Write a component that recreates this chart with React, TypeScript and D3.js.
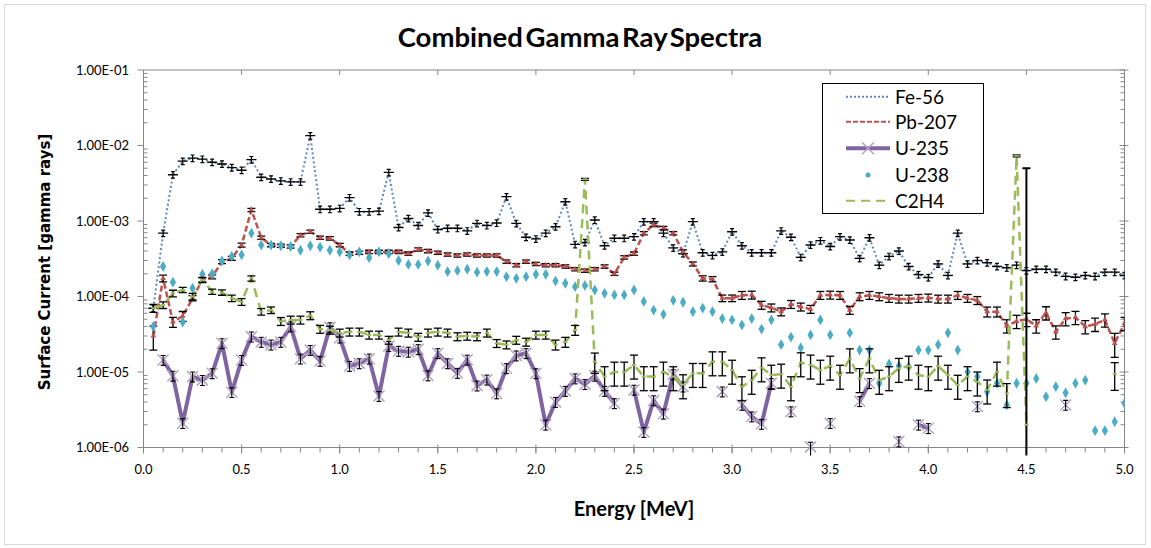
import React from 'react';
import * as d3 from 'd3';

const energy = [
  0.05, 0.1, 0.15, 0.2, 0.25, 0.3, 0.35, 0.4, 0.45, 0.5,
  0.55, 0.6, 0.65, 0.7, 0.75, 0.8, 0.85, 0.9, 0.95, 1.0,
  1.05, 1.1, 1.15, 1.2, 1.25, 1.3, 1.35, 1.4, 1.45, 1.5,
  1.55, 1.6, 1.65, 1.7, 1.75, 1.8, 1.85, 1.9, 1.95, 2.0,
  2.05, 2.1, 2.15, 2.2, 2.25, 2.3, 2.35, 2.4, 2.45, 2.5,
  2.55, 2.6, 2.65, 2.7, 2.75, 2.8, 2.85, 2.9, 2.95, 3.0,
  3.05, 3.1, 3.15, 3.2, 3.25, 3.3, 3.35, 3.4, 3.45, 3.5,
  3.55, 3.6, 3.65, 3.7, 3.75, 3.8, 3.85, 3.9, 3.95, 4.0,
  4.05, 4.1, 4.15, 4.2, 4.25, 4.3, 4.35, 4.4, 4.45, 4.5,
  4.55, 4.6, 4.65, 4.7, 4.75, 4.8, 4.85, 4.9, 4.95, 5.0,
];

const fe56 = [
  7e-5, 6.9e-4, 4.1e-3, 6.2e-3, 6.8e-3, 6.6e-3, 6.0e-3, 5.7e-3, 5.1e-3, 4.7e-3,
  6.5e-3, 3.8e-3, 3.6e-3, 3.4e-3, 3.3e-3, 3.3e-3, 1.35e-2, 1.43e-3, 1.43e-3, 1.47e-3,
  2.04e-3, 1.33e-3, 1.33e-3, 1.35e-3, 4.4e-3, 8.2e-4, 1.08e-3, 8.7e-4, 1.28e-3, 7.7e-4,
  8.0e-4, 8.0e-4, 7.4e-4, 9.3e-4, 8.7e-4, 9.4e-4, 2.1e-3, 9.3e-4, 6.1e-4, 5.8e-4,
  6.9e-4, 8.4e-4, 1.8e-3, 4.9e-4, 5.2e-4, 1.03e-3, 4.7e-4, 5.9e-4, 5.9e-4, 6.2e-4,
  9.8e-4, 9.8e-4, 6.9e-4, 4.4e-4, 3.7e-4, 9.8e-4, 3.8e-4, 3.5e-4, 3.9e-4, 7.2e-4,
  4.7e-4, 3.8e-4, 3.8e-4, 3.8e-4, 7.4e-4, 6.1e-4, 3.3e-4, 4.8e-4, 5.5e-4, 4.6e-4,
  6.2e-4, 5.6e-4, 3.2e-4, 6.0e-4, 2.6e-4, 3.4e-4, 4.0e-4, 2.5e-4, 1.95e-4, 1.78e-4,
  2.7e-4, 1.9e-4, 6.9e-4, 2.7e-4, 3.0e-4, 2.8e-4, 2.5e-4, 2.4e-4, 2.6e-4, 2.2e-4,
  2.3e-4, 2.3e-4, 2.1e-4, 1.85e-4, 1.8e-4, 1.9e-4, 1.85e-4, 2.1e-4, 2.1e-4, 1.9e-4,
];

const pb207 = [
  3.0e-5, 1.74e-4, 4.6e-5, 5.5e-5, 9.5e-5, 1.66e-4, 1.82e-4, 2.9e-4, 3.2e-4, 4.8e-4,
  1.4e-3, 6.0e-4, 4.8e-4, 4.7e-4, 4.6e-4, 6.5e-4, 7.2e-4, 6.0e-4, 5.9e-4, 4.8e-4,
  3.7e-4, 3.8e-4, 3.9e-4, 3.9e-4, 3.9e-4, 3.9e-4, 3.7e-4, 4.2e-4, 4.0e-4, 3.8e-4,
  3.6e-4, 3.5e-4, 3.6e-4, 3.5e-4, 3.5e-4, 3.5e-4, 2.9e-4, 2.6e-4, 2.9e-4, 2.7e-4,
  2.6e-4, 2.6e-4, 2.5e-4, 2.3e-4, 2.2e-4, 2.3e-4, 2.5e-4, 2.0e-4, 3.3e-4, 3.7e-4,
  6.9e-4, 8.9e-4, 8.1e-4, 6.9e-4, 3.9e-4, 2.7e-4, 1.74e-4, 1.7e-4, 9.5e-5, 9.5e-5,
  1.04e-4, 1.05e-4, 7.7e-5, 7.1e-5, 6.3e-5, 7.9e-5, 7.3e-5, 6.8e-5, 1.04e-4, 1.05e-4,
  1.04e-4, 6.6e-5, 1.0e-4, 1.04e-4, 1.0e-4, 9.5e-5, 9.3e-5, 9.3e-5, 9.5e-5, 9.6e-5,
  9.3e-5, 9.3e-5, 1.04e-4, 9.5e-5, 8.9e-5, 6.3e-5, 6.3e-5, 4.1e-5, 4.7e-5, 5.0e-5,
  4.1e-5, 6.1e-5, 3.4e-5, 5.1e-5, 5.3e-5, 4.0e-5, 4.3e-5, 4.9e-5, 2.4e-5, 4.4e-5,
];

const pb207Err = [
  0.35, 0.1, 0.15, 0.15, 0.08, 0.06, 0.06, 0.06, 0.06, 0.06,
  0.05, 0.05, 0.05, 0.05, 0.05, 0.05, 0.05, 0.05, 0.05, 0.05,
  0.05, 0.05, 0.05, 0.05, 0.05, 0.05, 0.05, 0.05, 0.05, 0.05,
  0.05, 0.05, 0.05, 0.05, 0.05, 0.05, 0.05, 0.05, 0.05, 0.05,
  0.05, 0.05, 0.05, 0.05, 0.05, 0.05, 0.05, 0.05, 0.05, 0.05,
  0.05, 0.05, 0.05, 0.05, 0.06, 0.06, 0.08, 0.08, 0.1, 0.1,
  0.12, 0.12, 0.12, 0.12, 0.12, 0.12, 0.12, 0.12, 0.12, 0.12,
  0.12, 0.12, 0.12, 0.12, 0.12, 0.12, 0.12, 0.12, 0.12, 0.12,
  0.12, 0.12, 0.12, 0.12, 0.12, 0.15, 0.15, 0.2, 0.2, 0.2,
  0.2, 0.2, 0.2, 0.2, 0.2, 0.2, 0.2, 0.2, 0.35, 0.2,
];

const u235 = [
  null, 1.44e-5, 8.9e-6, 2.1e-6, 8.7e-6, 7.8e-6, 9.6e-6, 2.4e-5, 5.4e-6, 1.44e-5,
  2.94e-5, 2.5e-5, 2.3e-5, 2.5e-5, 4.0e-5, 1.5e-5, 1.95e-5, 1.4e-5, 3.9e-5, 2.85e-5,
  1.2e-5, 1.3e-5, 1.5e-5, 4.8e-6, 2.2e-5, 1.9e-5, 1.85e-5, 2.0e-5, 9.0e-6, 1.77e-5,
  1.3e-5, 9.7e-6, 1.45e-5, 6.6e-6, 7.9e-6, 5.2e-6, 1.12e-5, 1.65e-5, 1.77e-5, 9.6e-6,
  2.0e-6, 4.0e-6, 5.6e-6, 8.2e-6, 6.9e-6, 8.9e-6, 5.6e-6, 3.85e-6, null, 5.8e-6,
  1.6e-6, 4.2e-6, 2.8e-6, 9.3e-6, 6.4e-6, null, null, null, 5.5e-6, null,
  3.66e-6, 2.57e-6, 2.05e-6, 7.1e-6, null, 3.0e-6, null, 1.02e-6, null, 2.1e-6,
  null, null, 4.1e-6, 7.1e-6, null, null, 1.2e-6, null, 2.0e-6, 1.8e-6,
  null, null, null, null, 3.5e-6, null, null, null, null, null,
  null, null, null, 3.66e-6, null, null, null, null, null, null,
];

const u238 = [
  4.0e-5, 2.5e-4, 1.55e-4, 4.6e-5, 1.29e-4, 1.97e-4, 2.0e-4, 2.95e-4, 3.4e-4, 3.56e-4,
  6.9e-4, 4.8e-4, 4.8e-4, 4.7e-4, 4.6e-4, 4.1e-4, 4.7e-4, 4.5e-4, 4.1e-4, 3.9e-4,
  3.56e-4, 3.9e-4, 3.27e-4, 3.9e-4, 3.7e-4, 3.0e-4, 2.66e-4, 2.66e-4, 2.95e-4, 2.6e-4,
  2.14e-4, 2.2e-4, 2.3e-4, 2.1e-4, 2.14e-4, 2.14e-4, 1.83e-4, 1.74e-4, 1.83e-4, 1.97e-4,
  1.97e-4, 1.6e-4, 1.5e-4, 1.35e-4, 1.4e-4, 1.22e-4, 1.1e-4, 1.05e-4, 1.05e-4, 1.22e-4,
  8.6e-5, 6.6e-5, 5.8e-5, 8.9e-5, 8.4e-5, 6.3e-5, 7.0e-5, 6.3e-5, 5.1e-5, 4.9e-5,
  4.2e-5, 5.1e-5, 3.7e-5, 4.9e-5, 2.3e-5, 2.9e-5, 2.1e-5, 3.1e-5, 4.9e-5, 3.1e-5,
  null, 3.3e-5, 1.95e-5, 1.95e-5, 7.1e-6, 1.28e-5, 1.2e-5, 1.18e-5, 1.95e-5, 1.95e-5,
  2.3e-5, 3.3e-5, 1.95e-5, 1.0e-5, 8.7e-6, 5.5e-6, 7.1e-6, 3.66e-6, 7.1e-6, 7.1e-6,
  8.2e-6, 4.7e-6, 6.4e-6, 5.3e-6, 7.1e-6, 7.8e-6, 1.67e-6, 1.67e-6, 2.2e-6, 3.85e-6,
];

const c2h4 = [
  7.0e-5, 7.7e-5, 1.1e-4, 1.22e-4, 1.0e-4, 1.66e-4, 1.16e-4, 1.13e-4, 9.5e-5, 8.5e-5,
  1.74e-4, 6.3e-5, 6.6e-5, 4.7e-5, 4.9e-5, 4.9e-5, 5.6e-5, 3.7e-5, 3.6e-5, 3.3e-5,
  3.4e-5, 3.4e-5, 3.1e-5, 3.1e-5, 2.65e-5, 3.4e-5, 3.3e-5, 2.9e-5, 3.3e-5, 3.4e-5,
  3.3e-5, 2.95e-5, 3.0e-5, 2.95e-5, 3.3e-5, 2.4e-5, 2.3e-5, 2.65e-5, 2.5e-5, 3.1e-5,
  3.1e-5, 2.3e-5, 2.5e-5, 3.6e-5, 3.56e-3, 1.37e-5, 8.7e-6, 1.0e-5, 1.0e-5, 1.24e-5,
  8.7e-6, 8.7e-6, 1.0e-5, 8.7e-6, 6.8e-6, 9.6e-6, 9.6e-6, 1.37e-5, 1.37e-5, 1.06e-5,
  6.4e-6, 7.8e-6, 1.14e-5, 9.1e-6, 9.4e-6, 6.4e-6, 1.33e-5, 1.24e-5, 1.06e-5, 1.2e-5,
  9.1e-6, 1.5e-5, 8.2e-6, 1.5e-5, 7.8e-6, 8.7e-6, 1.12e-5, 1.2e-5, 9.1e-6, 8.7e-6,
  1.2e-5, 9.1e-6, 6.7e-6, 8.7e-6, 7.4e-6, 5.8e-6, 1.0e-5, 5.2e-6, 7.3e-3, 2.0e-6,
  null, null, null, null, null, null, null, null, 9.5e-6, null,
];

const c2h4Err = [
  0.12, 0.1, 0.1, 0.08, 0.1, 0.08, 0.08, 0.08, 0.1, 0.1,
  0.08, 0.1, 0.1, 0.12, 0.12, 0.12, 0.12, 0.12, 0.12, 0.12,
  0.12, 0.12, 0.12, 0.12, 0.12, 0.12, 0.12, 0.12, 0.12, 0.12,
  0.12, 0.12, 0.12, 0.12, 0.12, 0.12, 0.12, 0.12, 0.12, 0.12,
  0.12, 0.15, 0.15, 0.15, 0.03, 0.3, 0.35, 0.35, 0.35, 0.35,
  0.35, 0.35, 0.35, 0.35, 0.35, 0.35, 0.35, 0.35, 0.35, 0.35,
  0.35, 0.35, 0.35, 0.35, 0.35, 0.35, 0.35, 0.35, 0.35, 0.35,
  0.35, 0.35, 0.35, 0.35, 0.35, 0.35, 0.35, 0.35, 0.35, 0.35,
  0.35, 0.35, 0.35, 0.35, 0.35, 0.35, 0.35, 0.35, 0.03, 2500,
  0, 0, 0, 0, 0, 0, 0, 0, 0.4, 0,
];

const FE_ERR = 0.1;
const U235_ERR = 0.15;

const yTicks = [1e-1, 1e-2, 1e-3, 1e-4, 1e-5, 1e-6];
const yTickLabels = ['1.00E-01', '1.00E-02', '1.00E-03', '1.00E-04', '1.00E-05', '1.00E-06'];
const xTicks = [0, 0.5, 1, 1.5, 2, 2.5, 3, 3.5, 4, 4.5, 5];
const xMinorTicks = d3.range(0, 51).map((i) => i / 10);

const legendNames = ['Fe-56', 'Pb-207', 'U-235', 'U-238', 'C2H4'];

const COL = {
  fe: '#5f86c0',
  pb: '#c0504d',
  u235: '#8064a2',
  u235m: '#b3a2c7',
  u238: '#4bacc6',
  c2h4: '#9bbb59',
  axis: '#868686',
};

const FONT = 'Lato, "Open Sans", sans-serif';

export default function App() {
  const x = d3.scaleLinear().domain([0, 5]).range([143.5, 1124.5]);
  const y = d3.scaleLog().domain([1e-6, 1e-1]).range([447.5, 70]);
  const yMin = 1e-6;
  const yBot = y(yMin);

  const pts = (arr: (number | null)[]) =>
    energy.map((e, i) => ({ e, v: arr[i], i }));

  const lineGen = d3
    .line<{ e: number; v: number | null }>()
    .defined((d) => d.v != null && d.v > 0)
    .x((d) => x(d.e))
    .y((d) => y(d.v as number));

  const errBar = (
    e: number,
    v: number,
    rel: number,
    cap: number,
    key: string,
    stroke = '#000',
    sw = 1.3
  ) => {
    const hi = v * (1 + rel);
    const lo = v * (1 - rel);
    const yHi = y(Math.min(hi, 1e-1));
    const loClipped = lo <= yMin;
    const yLo = loClipped ? yBot + 8 : y(lo);
    const cx = x(e);
    return (
      <g key={key} stroke={stroke} strokeWidth={sw} fill="none">
        <line x1={cx} x2={cx} y1={yHi} y2={yLo} />
        <line x1={cx - cap / 2} x2={cx + cap / 2} y1={yHi} y2={yHi} />
        {!loClipped && <line x1={cx - cap / 2} x2={cx + cap / 2} y1={yLo} y2={yLo} />}
      </g>
    );
  };

  const yMinor: number[] = [];
  for (let p = -6; p < -1; p++) {
    for (let m = 2; m <= 9; m++) yMinor.push(m * Math.pow(10, p));
  }

  const legendY = [96.7, 121.7, 148.3, 175, 200.7];
  const lx0 = 846;
  const lx1 = 890;

  return (
    <svg
      width={1151}
      height={548}
      style={{ position: 'absolute', left: 0, top: 0, background: '#fff' }}
      fontFamily={FONT}
    >
      <rect x={0} y={0} width={1151} height={548} fill="#fff" />
      <rect x={4.5} y={4.5} width={1141} height={540} fill="none" stroke="#d9d9d9" strokeWidth={1} />

      <text x={580} y={47} textAnchor="middle" fontSize={27.5} fontWeight={700} fill="#000" wordSpacing={-4}>
        Combined Gamma Ray Spectra
      </text>

      <defs>
        <clipPath id="plotClip">
          <rect x={143.5} y={70} width={981} height={386} />
        </clipPath>
      </defs>

      <rect x={143.5} y={70} width={981} height={377.5} fill="none" stroke={COL.axis} strokeWidth={1} />

      <g stroke={COL.axis} strokeWidth={1}>
        {yTicks.map((t) => (
          <g key={'yt' + t}>
            <line x1={137.5} x2={143.5} y1={y(t)} y2={y(t)} />
            <line x1={1119.5} x2={1128.5} y1={y(t)} y2={y(t)} />
          </g>
        ))}
        {yMinor.map((t) => (
          <g key={'ym' + t}>
            <line x1={143.5} x2={147.5} y1={y(t)} y2={y(t)} />
            <line x1={1120.5} x2={1124.5} y1={y(t)} y2={y(t)} />
          </g>
        ))}
        {xMinorTicks.map((t) => (
          <line key={'xm' + t} x1={x(t)} x2={x(t)} y1={yBot} y2={yBot + 5} />
        ))}
        {xTicks.map((t) => (
          <g key={'xt' + t}>
            <line x1={x(t)} x2={x(t)} y1={yBot - 3} y2={yBot + 6} />
            <line x1={x(t)} x2={x(t)} y1={70} y2={75} />
          </g>
        ))}
      </g>

      <g fontSize={13} fill="#000">
        {yTicks.map((t, i) => (
          <text key={'yl' + t} x={129} y={y(t) + 4.5} textAnchor="end">
            {yTickLabels[i]}
          </text>
        ))}
        {xTicks.map((t) => (
          <text key={'xl' + t} x={x(t)} y={474} textAnchor="middle">
            {t.toFixed(1)}
          </text>
        ))}
      </g>

      <text x={634} y={516} textAnchor="middle" fontSize={20} fontWeight={700} fill="#000">
        Energy [MeV]
      </text>
      <text
        transform={`translate(50,${262}) rotate(-90)`}
        textAnchor="middle"
        fontSize={15}
        fontWeight={700}
        fontFamily='"DejaVu Sans", Verdana, sans-serif'
        fill="#000"
      >
        Surface Current [gamma rays]
      </text>

      <g clipPath="url(#plotClip)">
        {/* Fe-56 */}
        <path d={lineGen(pts(fe56)) || ''} fill="none" stroke={COL.fe} strokeWidth={2} strokeDasharray="2 2.5" />
        {pts(fe56).map((d) =>
          d.v == null ? null : (
            <g key={'fe' + d.i}>
              {errBar(d.e, d.v, FE_ERR, 4, 'feb' + d.i, '#000', 1.2)}
              <line x1={x(d.e) - 5} x2={x(d.e) + 5} y1={y(d.v)} y2={y(d.v)} stroke="#000" strokeWidth={1.4} />
            </g>
          )
        )}

        {/* Pb-207 */}
        <path d={lineGen(pts(pb207)) || ''} fill="none" stroke={COL.pb} strokeWidth={2.5} strokeDasharray="6 3" />
        {pts(pb207).map((d) =>
          d.v == null ? null : (
            <g key={'pb' + d.i}>
              {errBar(d.e, d.v, pb207Err[d.i], 8, 'pbb' + d.i)}
              <path
                d={d3.symbol(d3.symbolTriangle, 14)() || ''}
                transform={`translate(${x(d.e)},${y(d.v)})`}
                fill={COL.pb}
              />
            </g>
          )
        )}

        {/* U-235 */}
        <path d={lineGen(pts(u235)) || ''} fill="none" stroke={COL.u235} strokeWidth={4} strokeLinejoin="round" />
        {pts(u235).map((d) =>
          d.v == null ? null : (
            <g key={'u5' + d.i}>
              <g transform={`translate(${x(d.e)},${y(d.v)})`} stroke={COL.u235m} strokeWidth={1.5}>
                <line x1={-5.5} x2={5.5} y1={-5.5} y2={5.5} />
                <line x1={-5.5} x2={5.5} y1={5.5} y2={-5.5} />
              </g>
              {errBar(d.e, d.v, U235_ERR, 5, 'u5b' + d.i, '#000', 1.1)}
            </g>
          )
        )}

        {/* U-238 */}
        {pts(u238).map((d) =>
          d.v == null ? null : (
            <path
              key={'u8' + d.i}
              d={d3.symbol(d3.symbolDiamond, 34)() || ''}
              transform={`translate(${x(d.e)},${y(d.v)})`}
              fill={COL.u238}
            />
          )
        )}

        {/* C2H4 */}
        <path d={lineGen(pts(c2h4)) || ''} fill="none" stroke={COL.c2h4} strokeWidth={2.5} strokeDasharray="9 6" />
        {pts(c2h4).map((d) =>
          d.v == null ? null : (
            <g key={'c' + d.i}>
              {errBar(d.e, d.v, c2h4Err[d.i], 8, 'cb' + d.i, '#000', d.e === 4.5 ? 2 : 1.3)}
              <line x1={x(d.e) - 2} x2={x(d.e) + 2} y1={y(d.v)} y2={y(d.v)} stroke={COL.c2h4} strokeWidth={2} />
            </g>
          )
        )}
      </g>

      {/* legend */}
      <rect x={822.5} y={83.5} width={161} height={130} fill="#fff" stroke="#000" strokeWidth={1} />
      <line x1={lx0} x2={lx1} y1={legendY[0]} y2={legendY[0]} stroke={COL.fe} strokeWidth={2} strokeDasharray="2 2" />
      <line x1={lx0} x2={lx1} y1={legendY[1]} y2={legendY[1]} stroke={COL.pb} strokeWidth={2} strokeDasharray="5 2" />
      <line x1={lx0} x2={lx1} y1={legendY[2]} y2={legendY[2]} stroke={COL.u235} strokeWidth={4} />
      <g transform={`translate(${(lx0 + lx1) / 2},${legendY[2]})`} stroke={COL.u235m} strokeWidth={1.5}>
        <line x1={-6} x2={6} y1={-6} y2={6} />
        <line x1={-6} x2={6} y1={6} y2={-6} />
      </g>
      <circle cx={(lx0 + lx1) / 2} cy={legendY[3]} r={2.5} fill={COL.u238} />
      <line x1={lx0} x2={lx1} y1={legendY[4]} y2={legendY[4]} stroke={COL.c2h4} strokeWidth={2} strokeDasharray="9 6" />
      {legendNames.map((n, i) => (
        <text key={n} x={895} y={legendY[i] + 7} fontSize={19} fill="#000">
          {n}
        </text>
      ))}
    </svg>
  );
}
